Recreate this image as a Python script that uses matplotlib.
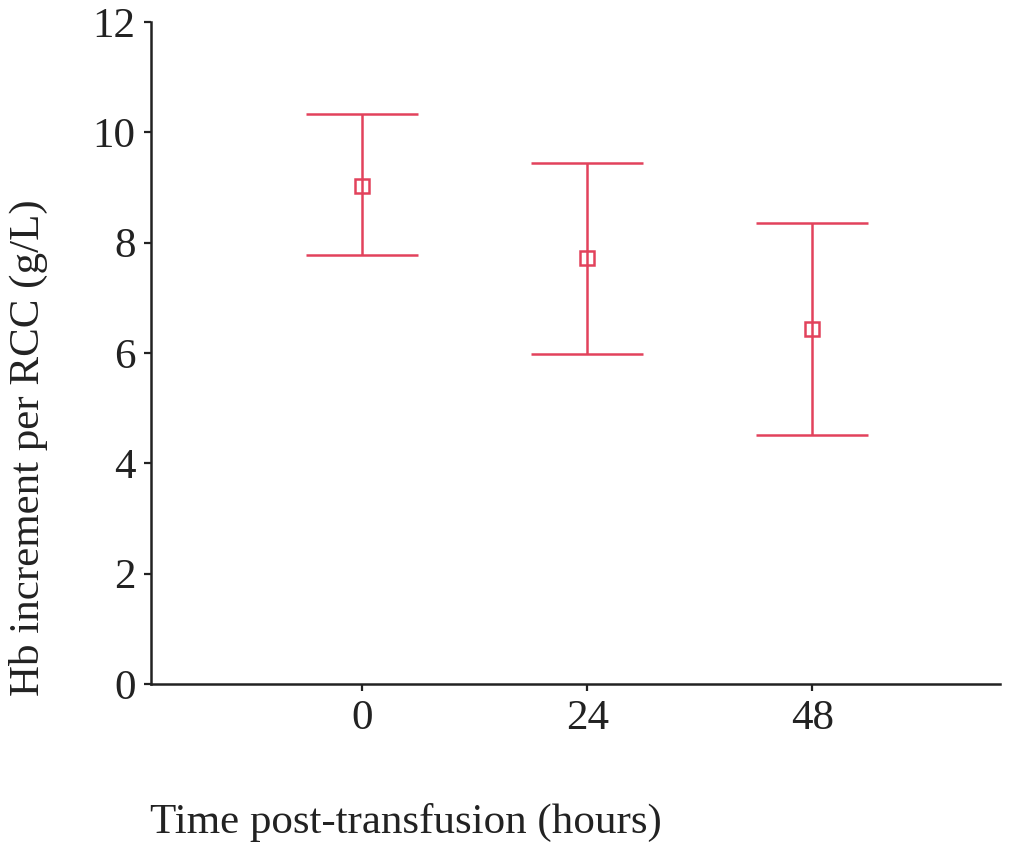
import matplotlib
matplotlib.use("Agg")
import matplotlib.pyplot as plt

# data
hours = [0, 24, 48]
mean_increment = [9.03, 7.72, 6.43]
upper_limit = [10.33, 9.45, 8.36]
lower_limit = [7.78, 5.98, 4.51]
y_ticks = [0, 2, 4, 6, 8, 10, 12]

plt.rcParams["font.family"] = ["Liberation Serif", "DejaVu Serif"]

fig = plt.figure(figsize=(10.14, 8.42), dpi=100)
ax = fig.add_axes([151 / 1014, 158 / 842, (1000 - 151) / 1014, (684 - 22) / 842])

red = "#e2425c"
err_low = [m - lo for m, lo in zip(mean_increment, lower_limit)]
err_high = [hi - m for m, hi in zip(mean_increment, upper_limit)]
ax.errorbar(
    hours,
    mean_increment,
    yerr=[err_low, err_high],
    fmt="s",
    color=red,
    ecolor=red,
    markerfacecolor="none",
    markeredgecolor=red,
    markersize=10,
    markeredgewidth=1.8,
    elinewidth=1.8,
    capsize=40,
    capthick=1.8,
)

ax.set_xlim(-22.5, 68)
ax.set_ylim(0, 12)
ax.set_xticks(hours)
ax.set_yticks(y_ticks)
ax.tick_params(labelsize=31, width=1.6, length=5, colors="#222222", pad=6)
for side in ("top", "right"):
    ax.spines[side].set_visible(False)
for side in ("left", "bottom"):
    ax.spines[side].set_linewidth(1.8)
    ax.spines[side].set_color("#222222")

fig.text(28 / 1014, 1 - 448 / 842, "Hb increment per RCC (g/L)",
         fontsize=31, color="#222222", rotation=90, ha="center", va="center")
fig.text(150 / 1014, 1 - 822 / 842, "Time post-transfusion (hours)",
         fontsize=31, color="#222222", ha="left", va="center")

fig.savefig("out.png", dpi=100)
